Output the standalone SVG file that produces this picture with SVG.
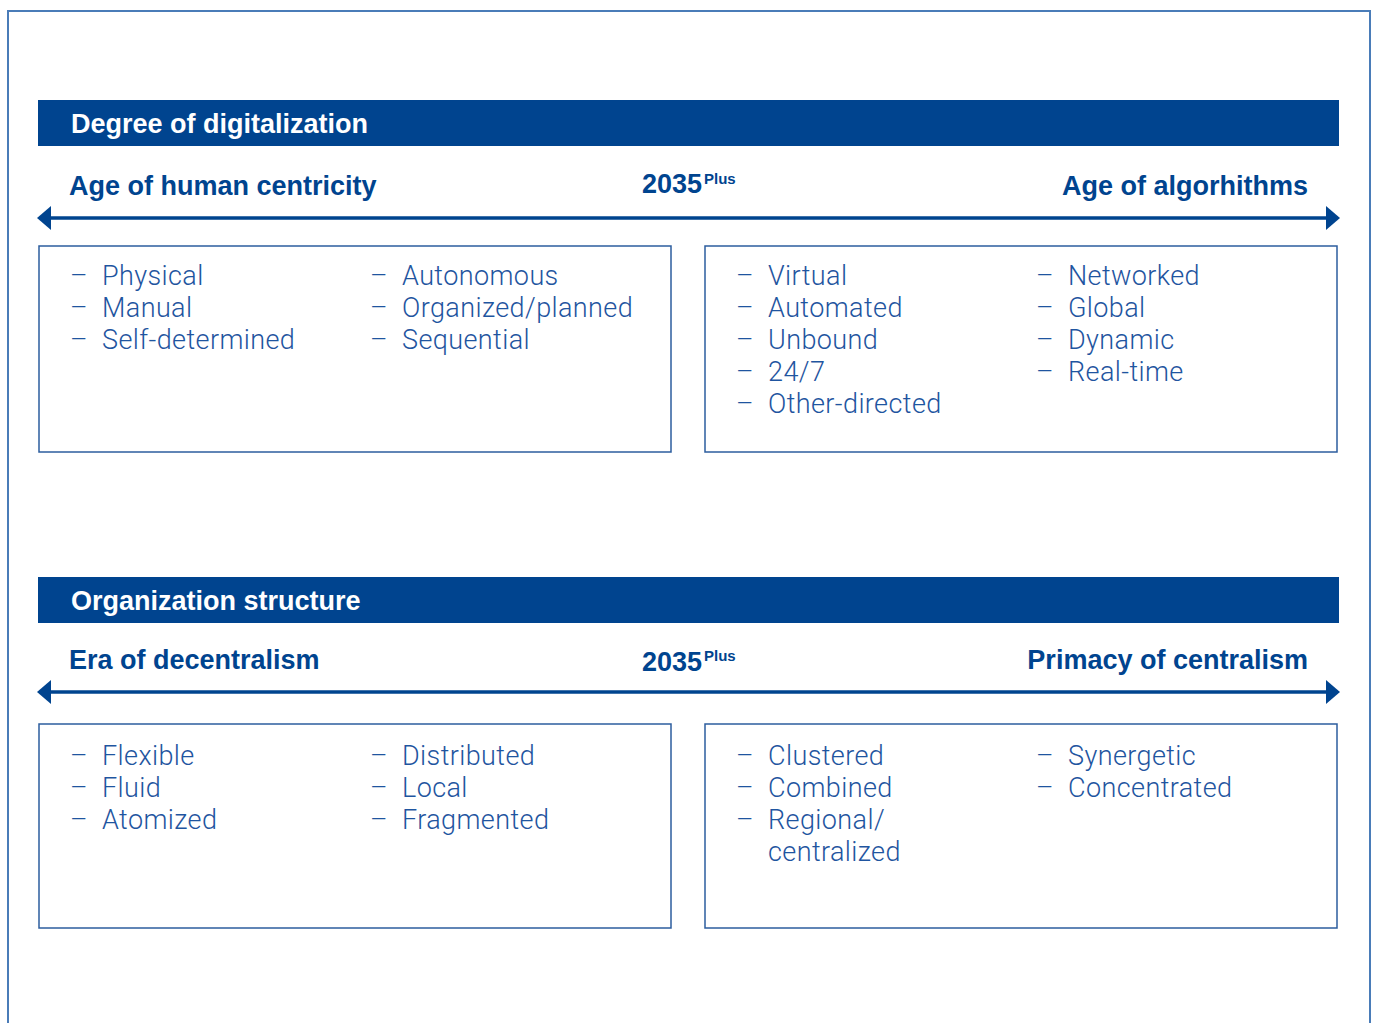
<svg xmlns="http://www.w3.org/2000/svg" width="1375" height="1023" viewBox="0 0 1375 1023">
<style>
.frame{fill:none;stroke:#4a7cb8;stroke-width:2}
.bar{fill:#00448f}
.box{fill:#fff;stroke:#2c5d9e;stroke-width:1.5}
.axis{stroke:#00448f;stroke-width:3.5;fill:none}
.h{font-family:"Liberation Sans",Arial,sans-serif;font-weight:bold;font-size:27px;fill:#fff}
.t{font-family:"Liberation Sans",Arial,sans-serif;font-weight:bold;font-size:27px;fill:#00448f}
.sup{font-family:"Liberation Sans",Arial,sans-serif;font-weight:bold;font-size:15px;fill:#00448f}
.i{font-family:Roboto,"Liberation Sans",Arial,sans-serif;font-weight:300;font-size:27px;letter-spacing:0.4px;fill:#1f55a0}
</style>
<defs>
<marker id="ah" markerWidth="14" markerHeight="24" refX="0" refY="12" orient="auto-start-reverse" markerUnits="userSpaceOnUse" overflow="visible">
<path d="M0,0 L14,12 L0,24 Z" fill="#00448f"/>
</marker>
</defs>
<path class="frame" d="M8,1023 V11 H1370 V1023"/>

<g id="section1">
<rect class="bar" x="38" y="100" width="1301" height="46"/>
<text class="h" x="71" y="133">Degree of digitalization</text>
<text class="t" x="69" y="195">Age of human centricity</text>
<text class="t" x="642" y="193">2035</text>
<text class="sup" x="704" y="184">Plus</text>
<text class="t" x="1308" y="195" text-anchor="end">Age of algorhithms</text>
</g>

<g id="box1">
<rect class="box" x="39" y="246" width="632" height="206"/>
<g class="i">
<text x="70" y="285">–</text><text x="102" y="285">Physical</text>
<text x="70" y="317">–</text><text x="102" y="317">Manual</text>
<text x="70" y="349">–</text><text x="102" y="349">Self-determined</text>
<text x="370" y="285">–</text><text x="402" y="285">Autonomous</text>
<text x="370" y="317">–</text><text x="402" y="317">Organized/planned</text>
<text x="370" y="349">–</text><text x="402" y="349">Sequential</text>
</g>
</g>

<g id="box2">
<rect class="box" x="705" y="246" width="632" height="206"/>
<g class="i">
<text x="736" y="285">–</text><text x="768" y="285">Virtual</text>
<text x="736" y="317">–</text><text x="768" y="317">Automated</text>
<text x="736" y="349">–</text><text x="768" y="349">Unbound</text>
<text x="736" y="381">–</text><text x="768" y="381">24/7</text>
<text x="736" y="413">–</text><text x="768" y="413">Other-directed</text>
<text x="1036" y="285">–</text><text x="1068" y="285">Networked</text>
<text x="1036" y="317">–</text><text x="1068" y="317">Global</text>
<text x="1036" y="349">–</text><text x="1068" y="349">Dynamic</text>
<text x="1036" y="381">–</text><text x="1068" y="381">Real-time</text>
</g>
</g>

<g id="section2">
<rect class="bar" x="38" y="577" width="1301" height="46"/>
<text class="h" x="71" y="610">Organization structure</text>
<text class="t" x="69" y="669">Era of decentralism</text>
<text class="t" x="642" y="671">2035</text>
<text class="sup" x="704" y="661">Plus</text>
<text class="t" x="1308" y="669" text-anchor="end">Primacy of centralism</text>
</g>

<g id="box3">
<rect class="box" x="39" y="724" width="632" height="204"/>
<g class="i">
<text x="70" y="765">–</text><text x="102" y="765">Flexible</text>
<text x="70" y="797">–</text><text x="102" y="797">Fluid</text>
<text x="70" y="829">–</text><text x="102" y="829">Atomized</text>
<text x="370" y="765">–</text><text x="402" y="765">Distributed</text>
<text x="370" y="797">–</text><text x="402" y="797">Local</text>
<text x="370" y="829">–</text><text x="402" y="829">Fragmented</text>
</g>
</g>

<g id="box4">
<rect class="box" x="705" y="724" width="632" height="204"/>
<g class="i">
<text x="736" y="765">–</text><text x="768" y="765">Clustered</text>
<text x="736" y="797">–</text><text x="768" y="797">Combined</text>
<text x="736" y="829">–</text><text x="768" y="829">Regional/</text>
<text x="768" y="861">centralized</text>
<text x="1036" y="765">–</text><text x="1068" y="765">Synergetic</text>
<text x="1036" y="797">–</text><text x="1068" y="797">Concentrated</text>
</g>
</g>

<g id="connectors">
<line class="axis" x1="51" y1="218" x2="1326" y2="218" marker-start="url(#ah)" marker-end="url(#ah)"/>
<line class="axis" x1="51" y1="692" x2="1326" y2="692" marker-start="url(#ah)" marker-end="url(#ah)"/>
</g>
</svg>
